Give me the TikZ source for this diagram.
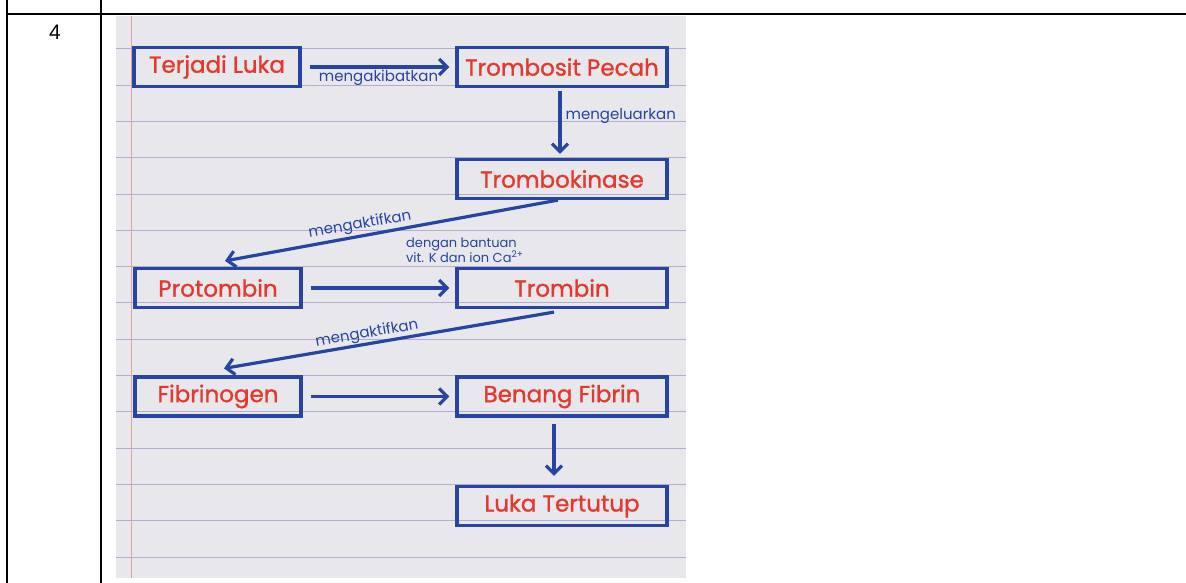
\documentclass[tikz,border=0pt]{standalone}
\usepackage{fontspec}
\setmainfont{Liberation Sans}
\newfontfamily\handfont{Poppins}
\newfontfamily\boxfont{Poppins}[FakeBold=1.2]
\usetikzlibrary{arrows.meta}
\definecolor{pen}{RGB}{38,68,160}
\definecolor{ink}{RGB}{226,58,48}
\definecolor{paper}{RGB}{232,231,235}
\definecolor{ruling}{RGB}{182,172,208}
\definecolor{margin}{RGB}{226,160,158}

\begin{document}
\begin{tikzpicture}
  [x=1pt,y=-1pt,
   box/.style={draw=pen,line width=3.2pt,minimum height=39pt,inner sep=0pt,text=ink,
     font=\boxfont\fontsize{23}{23}\selectfont},
   lbox/.style={box,minimum width=166pt},
   rbox/.style={box,minimum width=210pt},
   lbl/.style={text=pen,inner sep=1pt,font=\handfont\fontsize{15}{15}\selectfont},
   flow/.style={draw=pen,line width=3.2pt,-{Straight Barb[length=8pt,width=16pt]}}]
  \useasboundingbox (0,0) rectangle (1186,583);

  % table
  \draw[line width=2.6pt] (7,0) -- (7,583) (101,0) -- (101,583) (7,14) -- (1186,14);
  \node[font=\fontsize{21}{21}\selectfont] (no) at (55,32) {4};

  % sheet
  \fill[paper] (116,16) rectangle (686,578);
  \foreach \k in {0,...,14}
    \draw[ruling,line width=1pt] (116,48.8+36.3*\k) -- (686,48.8+36.3*\k);
  \draw[margin,line width=1pt] (131,16) -- (131,578);

  \node[lbox] (luka) at (217,67) {Terjadi Luka};
  \node[rbox] (pecah) at (562,67) {Trombosit Pecah};
  \node[rbox] (kinase) at (562,179) {Trombokinase};
  \node[lbox] (protombin) at (218,288) {Protombin};
  \node[rbox] (trombin) at (562,288) {Trombin};
  \node[lbox] (fibrinogen) at (218,396.5) {Fibrinogen};
  \node[rbox] (benang) at (562,396.5) {Benang Fibrin};
  \node[rbox] (tutup) at (562,506) {Luka Tertutup};
%  \node[lbox] (tutup) at (218,506) {Luka Tertutup};

  \foreach \from/\to in {luka/pecah,protombin/trombin,fibrinogen/benang}
    \draw[flow,shorten <=8pt,shorten >=6pt] (\from) -- (\to);
  \path (luka) -- node[lbl,below=2pt] (akibat) {mengakibatkan} (pecah);

  \draw[flow,shorten <=3pt,shorten >=4pt] ([xshift=-2pt]pecah.south)
    -- node[lbl,right=3pt,pos=0.4] (keluar) {mengeluarkan} ([xshift=-2pt]kinase.north);

  \draw[flow] ([xshift=-4pt]kinase.south) -- ([xshift=7pt,yshift=6pt]protombin.north);
  \node[lbl,rotate=10] (aktif) at (360,225) {mengaktifkan};
  \node[lbl,anchor=west,align=left,font=\handfont\fontsize{13}{15}\selectfont] (bantuan)
    at (405,250) {dengan bantuan\\vit. K dan ion Ca\textsuperscript{2+}};

  \draw[flow] ([xshift=-8pt,yshift=-3pt]trombin.south) -- ([xshift=6pt,yshift=7pt]fibrinogen.north);
  \node[lbl,rotate=10] (aktif2) at (367,334) {mengaktifkan};

  \draw[flow,shorten <=6pt,shorten >=9pt] ([xshift=-8pt]benang.south) -- ([xshift=-8pt]tutup.north);
\end{tikzpicture}
\end{document}
